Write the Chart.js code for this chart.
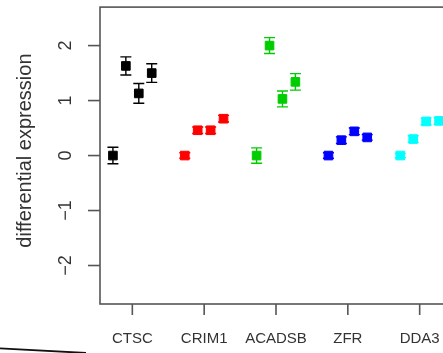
<!DOCTYPE html>
<html>
<head>
<meta charset="utf-8">
<script src="https://cdn.jsdelivr.net/npm/chart.js@4.4.1/dist/chart.umd.min.js"></script>
<style>
  html, body { margin: 0; padding: 0; background: #fff; overflow: hidden; }
  #wrap { width: 460px; height: 353px; }
</style>
</head>
<body>
<div id="wrap"><canvas id="c" width="460" height="353"></canvas></div>
<script>
// Genes on the x axis
const categories = ['CTSC', 'CRIM1', 'ACADSB', 'ZFR', 'DDA3'];

// Differential expression per gene (four conditions each) and standard errors
const ctscValues   = [0, 1.63, 1.13, 1.50];
const ctscErrors   = [0.15, 0.165, 0.18, 0.17];
const crim1Values  = [0, 0.46, 0.46, 0.67];
const crim1Errors  = [0.05, 0.06, 0.06, 0.06];
const acadsbValues = [0, 2.00, 1.03, 1.34];
const acadsbErrors = [0.14, 0.145, 0.145, 0.15];
const zfrValues    = [0, 0.28, 0.44, 0.33];
const zfrErrors    = [0.05, 0.06, 0.06, 0.05];
const dda3Values   = [0, 0.30, 0.62, 0.63];
const dda3Errors   = [0.04, 0.06, 0.06, 0.06];

// y axis tick labels
const yTickValues = [-2, -1, 0, 1, 2];
const yTickLabels = ['\u22122', '\u22121', '0', '1', '2'];

const seriesValues = [ctscValues, crim1Values, acadsbValues, zfrValues, dda3Values];
const seriesErrors = [ctscErrors, crim1Errors, acadsbErrors, zfrErrors, dda3Errors];
const seriesColors = ['#000000', '#ff0000', '#00cd00', '#0000ff', '#00ffff'];
const withinGroupOffset = [-0.27, -0.09, 0.09, 0.27];

const FONT = '"Liberation Sans", Arial, Helvetica, sans-serif';

const datasets = categories.map((name, g) => ({
  label: name,
  data: seriesValues[g].map((v, i) => ({ x: g + 1 + withinGroupOffset[i], y: v, err: seriesErrors[g][i] })),
  backgroundColor: seriesColors[g],
  borderColor: seriesColors[g],
  pointStyle: 'rect',
  pointRadius: 6.1,
  pointBorderWidth: 1,
  showLine: false
}));

// Vertical error bars with caps, drawn underneath the markers
const errorBars = {
  id: 'errorBars',
  beforeDatasetsDraw(chart) {
    const ctx = chart.ctx;
    const ys = chart.scales.y;
    ctx.save();
    ctx.lineWidth = 1.4;
    chart.data.datasets.forEach((ds, di) => {
      const meta = chart.getDatasetMeta(di);
      ctx.strokeStyle = ds.borderColor;
      meta.data.forEach((el, i) => {
        const p = ds.data[i];
        const top = ys.getPixelForValue(p.y + p.err);
        const bot = ys.getPixelForValue(p.y - p.err);
        const half = 5.5;
        ctx.beginPath();
        ctx.moveTo(el.x, top); ctx.lineTo(el.x, bot);
        ctx.moveTo(el.x - half, top); ctx.lineTo(el.x + half, top);
        ctx.moveTo(el.x - half, bot); ctx.lineTo(el.x + half, bot);
        ctx.stroke();
      });
    });
    ctx.restore();
  }
};

// Box, ticks, tick labels and axis title in the base-graphics style
const frame = {
  id: 'frame',
  afterDraw(chart) {
    const ctx = chart.ctx;
    const a = chart.chartArea;
    const xs = chart.scales.x, ys = chart.scales.y;
    ctx.save();
    ctx.strokeStyle = '#555';
    ctx.lineWidth = 1.6;
    ctx.strokeRect(a.left, a.top, a.right - a.left, a.bottom - a.top);

    // y ticks + rotated labels
    ctx.fillStyle = '#333';
    ctx.textAlign = 'center';
    ctx.textBaseline = 'middle';
    ctx.font = '18px ' + FONT;
    yTickValues.forEach((v, i) => {
      const y = ys.getPixelForValue(v);
      ctx.beginPath();
      ctx.moveTo(a.left, y); ctx.lineTo(a.left - 12, y);
      ctx.stroke();
      ctx.save();
      ctx.translate(66, y);
      ctx.rotate(-Math.PI / 2);
      ctx.fillText(yTickLabels[i], 0, 0);
      ctx.restore();
    });

    // x ticks + labels
    ctx.font = '15px ' + FONT;
    categories.forEach((name, g) => {
      const x = xs.getPixelForValue(g + 1);
      ctx.beginPath();
      ctx.moveTo(x, a.bottom); ctx.lineTo(x, a.bottom + 11);
      ctx.stroke();
      ctx.fillText(name, x, 339);
    });

    // y axis title
    ctx.save();
    ctx.font = '20px ' + FONT;
    ctx.translate(25, (a.top + a.bottom) / 2 - 5);
    ctx.rotate(-Math.PI / 2);
    ctx.fillText('differential expression', 0, 0);
    ctx.restore();

    // stray rule along the lower left edge
    ctx.strokeStyle = '#111';
    ctx.lineWidth = 1.8;
    ctx.beginPath();
    ctx.moveTo(0, 348.3); ctx.lineTo(86, 353);
    ctx.stroke();
    ctx.restore();
  }
};

new Chart(document.getElementById('c'), {
  type: 'scatter',
  data: { datasets },
  options: {
    responsive: false,
    animation: false,
    events: [],
    layout: { padding: { left: 100, top: 6, right: 8, bottom: 49 } },
    plugins: { legend: { display: false }, tooltip: { enabled: false } },
    scales: {
      x: { type: 'linear', min: 0.55, max: 5.45, display: false },
      y: { type: 'linear', min: -2.7, max: 2.7, display: false }
    }
  },
  plugins: [errorBars, frame]
});
</script>
</body>
</html>
